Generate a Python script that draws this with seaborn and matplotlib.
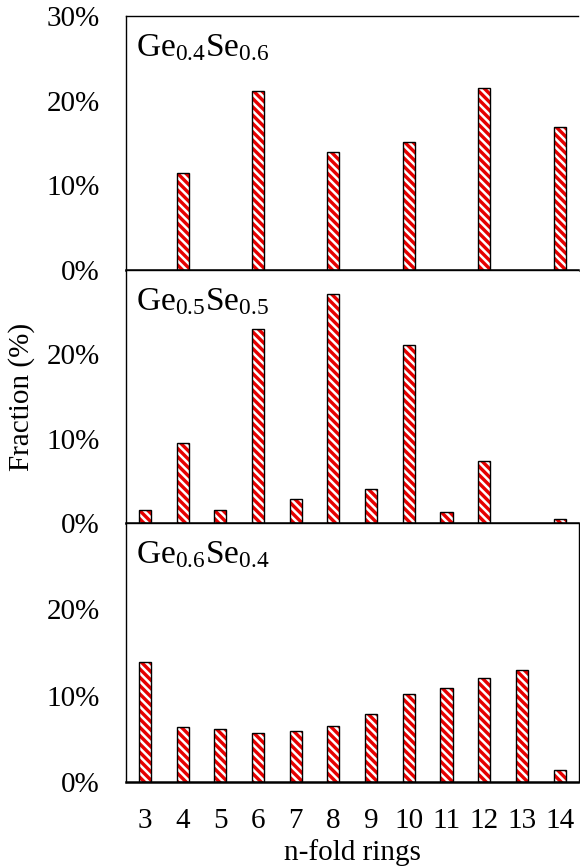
import numpy as np
import pandas as pd
import matplotlib
matplotlib.use("Agg")
import matplotlib.pyplot as plt
import seaborn as sns

rings = [3, 4, 5, 6, 7, 8, 9, 10, 11, 12, 13, 14]
ge04se06 = [np.nan, 11.4, np.nan, 21.1, np.nan, 13.9, np.nan, 15.1, np.nan, 21.5, np.nan, 16.9]
ge05se05 = [1.5, 9.5, 1.5, 23.0, 2.8, 27.2, 4.0, 21.1, 1.3, 7.4, np.nan, 0.5]
ge06se04 = [13.9, 6.4, 6.1, 5.7, 5.9, 6.5, 7.9, 10.2, 10.9, 12.1, 13.0, 1.35]
panel_labels = [r"Ge$_{\mathrm{0.4}}$Se$_{\mathrm{0.6}}$",
                r"Ge$_{\mathrm{0.5}}$Se$_{\mathrm{0.5}}$",
                r"Ge$_{\mathrm{0.6}}$Se$_{\mathrm{0.4}}$"]
yticks_list = [[0, 10, 20, 30], [0, 10, 20], [0, 10, 20]]
xlabel = "n-fold rings"
ylabel = "Fraction (%)"

sns.set_style("white")
plt.rcParams["font.family"] = ["Liberation Serif", "DejaVu Serif"]
plt.rcParams["mathtext.fontset"] = "custom"
plt.rcParams["mathtext.rm"] = "Liberation Serif"
plt.rcParams["mathtext.it"] = "Liberation Serif:italic"
plt.rcParams["hatch.linewidth"] = 1.8
plt.rcParams["text.color"] = "black"
plt.rcParams["axes.labelcolor"] = "black"
plt.rcParams["xtick.color"] = "black"
plt.rcParams["ytick.color"] = "black"

W, H = 580, 868
fig = plt.figure(figsize=(W / 100, H / 100), dpi=100)

left_px, right_px = 126, 578.5
panels_px = [(16, 270), (270, 523), (523, 782)]
series = [ge04se06, ge05se05, ge06se04]
red = "#e60000"

for i, ((t, b), vals) in enumerate(zip(panels_px, series)):
    ax = fig.add_axes([left_px / W, 1 - b / H, (right_px - left_px) / W, (b - t) / H])
    df = pd.DataFrame({"ring": [str(r) for r in rings], "frac": vals})
    order = [str(r) for r in rings]
    sns.barplot(data=df, x="ring", y="frac", order=order, ax=ax, color=red,
                saturation=1, width=0.32, edgecolor="white", linewidth=0, errorbar=None)
    for p in ax.patches:
        p.set_hatch("\\\\\\\\")
    sns.barplot(data=df, x="ring", y="frac", order=order, ax=ax, fill=False,
                width=0.32, edgecolor="black", linewidth=1.0, errorbar=None)
    ax.set_xlim(-0.5, len(rings) - 0.5)
    ax.set_ylim(0, 30)
    yt = yticks_list[i]
    ax.set_yticks(yt)
    ax.set_yticklabels([f"{v}%" for v in yt], fontsize=21)
    ax.tick_params(axis="both", length=0, pad=19)
    ax.set_ylabel("")
    ax.set_xlabel("")
    if i < 2:
        ax.set_xticklabels([])
        ax.spines["right"].set_visible(False)
    else:
        ax.set_xticklabels([str(r) for r in rings], fontsize=21)
        ax.set_xlabel(xlabel, fontsize=21, labelpad=3, color="black")
        ax.spines["right"].set_color("black")
        ax.spines["right"].set_linewidth(1.0)
    for s in ["left", "top"]:
        ax.spines[s].set_color("black")
        ax.spines[s].set_linewidth(1.0)
    ax.spines["bottom"].set_color("black")
    ax.spines["bottom"].set_linewidth(1.8)
    ax.spines["bottom"].set_zorder(5)
    ax.text(0.022, 0.935, panel_labels[i], transform=ax.transAxes,
            fontsize=24, va="top", ha="left", color="black")

fig.text(22 / W, 1 - 397 / H, ylabel, rotation=90, fontsize=21, va="center",
         ha="center", color="black")

fig.savefig("out.png", dpi=100)
